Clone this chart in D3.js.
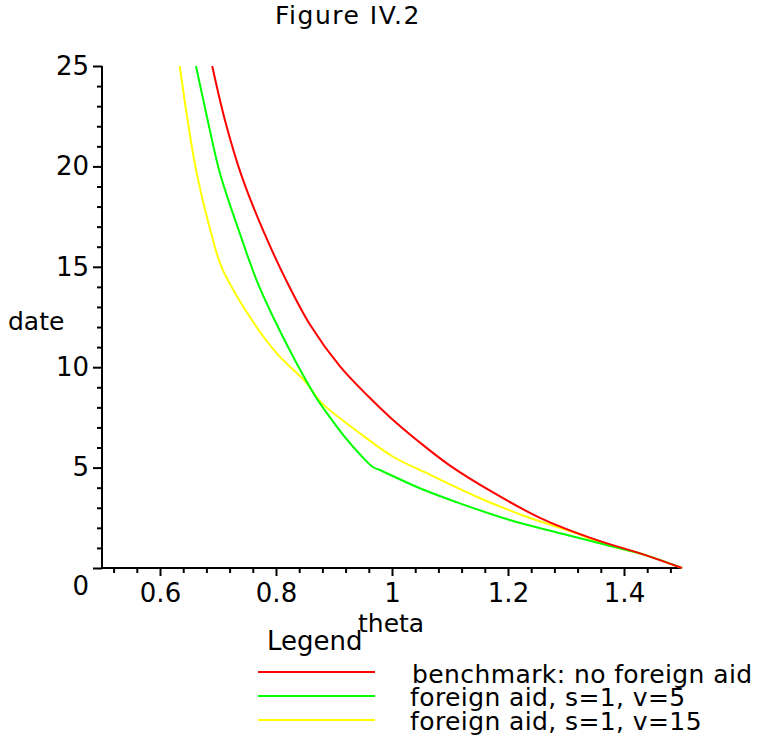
<!DOCTYPE html>
<html>

<head>
    <meta charset="utf-8" />
    <title>Figure IV.2</title>
    <style>
        body { margin: 0; background: #fff; }
        text { font-family: "DejaVu Sans", sans-serif; fill: #000; }
    </style>
</head>

<body>
    <svg width=762 height=737></svg>
</body>

<script src="https://cdn.jsdelivr.net/npm/d3@7"></script>
<script>

    // values: [theta, date]
    var benchmark = [
        [0.690, 25], [0.712, 22.3], [0.741, 19.5], [0.778, 16.8], [0.818, 14.3],
        [0.859, 12.1], [0.910, 10.05], [0.959, 8.55], [0.997, 7.5], [1.048, 6.25],
        [1.100, 5.1], [1.175, 3.75], [1.255, 2.5], [1.347, 1.45], [1.433, 0.68], [1.5, 0]
    ];
    var aid5 = [
        [0.662, 25], [0.680, 22.6], [0.703, 19.7], [0.736, 16.8], [0.767, 14.3],
        [0.795, 12.5], [0.830, 10.5], [0.870, 8.45], [0.893, 7.5], [0.922, 6.4],
        [0.945, 5.65], [0.967, 5.03], [0.979, 4.88], [1.048, 3.97], [1.117, 3.22],
        [1.203, 2.39], [1.290, 1.73], [1.382, 1.06], [1.433, 0.68], [1.5, 0]
    ];
    var aid15 = [
        [0.634, 25], [0.646, 22.6], [0.663, 19.7], [0.688, 16.7], [0.706, 15.0],
        [0.755, 12.5], [0.801, 10.7], [0.853, 9.2], [0.876, 8.3], [0.945, 6.7],
        [1.002, 5.54], [1.060, 4.72], [1.146, 3.55], [1.232, 2.55], [1.318, 1.73],
        [1.370, 1.15], [1.433, 0.68], [1.5, 0]
    ];

    var seriesNames = ['benchmark: no foreign aid', 'foreign aid, s=1, v=5', 'foreign aid, s=1, v=15'];
    var seriesColors = ['#ff0000', '#00ff00', '#ffff00'];
    var xMajor = [0.6, 0.8, 1, 1.2, 1.4];
    var yMajor = [0, 5, 10, 15, 20, 25];

    var svg = d3.select('svg');

    var x = d3.scaleLinear().domain([0.5, 1.5]).range([102, 682]);
    var y = d3.scaleLinear().domain([0, 25]).range([568, 66]);

    // minor ticks
    var xMinor = d3.range(0.52, 1.5, 0.04).filter(function (d) {
        return !xMajor.some(function (m) { return Math.abs(m - d) < 1e-6; });
    });
    var yMinor = d3.range(1, 25, 1).filter(function (d) { return d % 5 != 0; });

    svg.append('g')
        .attr('transform', 'translate(0,' + y(0) + ')')
        .call(d3.axisBottom(x).tickValues(xMinor).tickSize(5).tickFormat(''))
        .call(function (g) { g.select('.domain').remove(); });
    var xAxis = svg.append('g')
        .attr('transform', 'translate(0,' + y(0) + ')')
        .call(d3.axisBottom(x).tickValues(xMajor).tickSize(8).tickPadding(8).tickFormat(d3.format('')));
    xAxis.select('.domain').remove();

    svg.append('g')
        .attr('transform', 'translate(' + x(0.5) + ',0)')
        .call(d3.axisLeft(y).tickValues(yMinor).tickSize(5).tickFormat(''))
        .call(function (g) { g.select('.domain').remove(); });
    var yAxis = svg.append('g')
        .attr('transform', 'translate(' + x(0.5) + ',0)')
        .call(d3.axisLeft(y).tickValues(yMajor).tickSize(9).tickPadding(4));
    yAxis.select('.domain').remove();

    svg.selectAll('.tick line').attr('stroke', '#000').attr('stroke-width', 2);
    svg.selectAll('.tick text')
        .style('font-family', '"DejaVu Sans", sans-serif')
        .style('font-size', '26px')
        .attr('fill', '#000');
    // the 0 of the date axis sits under the theta axis
    yAxis.selectAll('.tick text').filter(function (d) { return d == 0; }).attr('dy', '1.0em');

    // axis lines
    svg.append('line')
        .attr('x1', x(0.5)).attr('x2', x(0.5))
        .attr('y1', y(0)).attr('y2', y(25))
        .attr('stroke', '#000').attr('stroke-width', 2);
    svg.append('line')
        .attr('x1', x(0.5)).attr('x2', x(1.5))
        .attr('y1', y(0)).attr('y2', y(0))
        .attr('stroke', '#000').attr('stroke-width', 2);

    var line = d3.line()
        .x(function (d) { return x(d[0]); })
        .y(function (d) { return y(d[1]); })
        .curve(d3.curveCatmullRom.alpha(0.5));

    var curves = [aid15, aid5, benchmark];
    var curveColors = [seriesColors[2], seriesColors[1], seriesColors[0]];
    svg.selectAll('path.curve')
        .data(curves)
        .enter()
        .append('path')
        .attr('class', 'curve')
        .attr('d', line)
        .attr('fill', 'none')
        .attr('stroke', function (d, i) { return curveColors[i]; })
        .attr('stroke-width', 2);

    // titles
    svg.append('text').attr('x', 275).attr('y', 24).style('font-size', '25px')
        .style('letter-spacing', '1.5px').text('Figure IV.2');
    svg.append('text').attr('x', 8).attr('y', 330).style('font-size', '25px').text('date');
    svg.append('text').attr('x', 358).attr('y', 632).style('font-size', '25px').text('theta');

    // legend
    svg.append('text').attr('x', 267).attr('y', 650).style('font-size', '26px').text('Legend');
    var legendY = [672, 696, 720];
    var legendTextY = [683, 706, 730];
    var leg = svg.selectAll('g.leg')
        .data(seriesNames)
        .enter()
        .append('g')
        .attr('class', 'leg');
    leg.append('line')
        .attr('x1', 258).attr('x2', 375)
        .attr('y1', function (d, i) { return legendY[i]; })
        .attr('y2', function (d, i) { return legendY[i]; })
        .attr('stroke', function (d, i) { return seriesColors[i]; })
        .attr('stroke-width', 2);
    leg.append('text')
        .attr('x', function (d, i) { return i == 0 ? 412 : 410; })
        .attr('y', function (d, i) { return legendTextY[i]; })
        .style('font-size', '25px')
        .style('letter-spacing', '0.4px')
        .text(function (d) { return d; });
</script>

</html>
